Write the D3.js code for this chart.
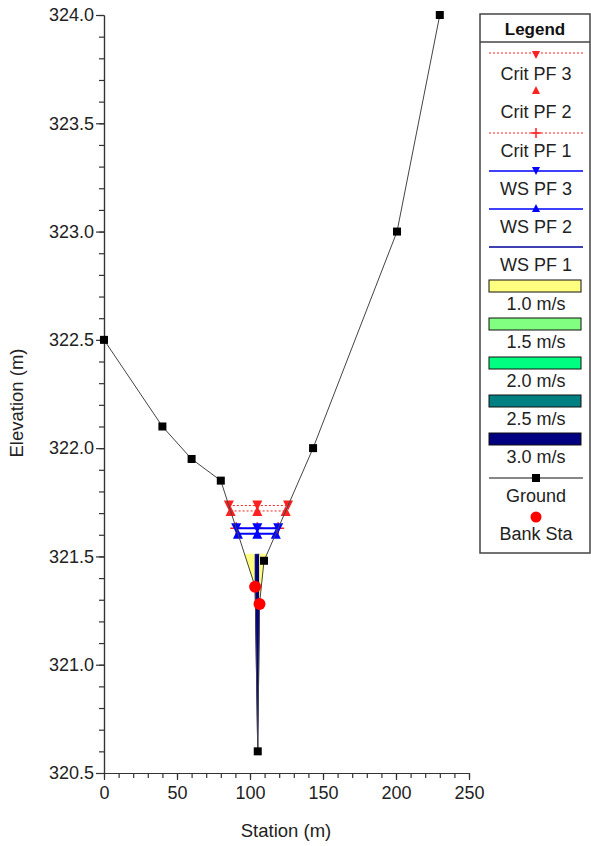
<!DOCTYPE html>
<html>
<head>
<meta charset="utf-8">
<script src="https://cdn.jsdelivr.net/npm/d3@7/dist/d3.min.js"></script>
<style>
  html, body { margin: 0; padding: 0; background: #fff; }
  svg { display: block; font-family: "Liberation Sans", Arial, sans-serif; }
</style>
</head>
<body>
<svg id="chart" width="591" height="846"></svg>
<script>
// Cross-section ground geometry (station m, elevation m)
const groundStation = [0, 40, 60, 80, 103.5, 105.3, 106.5, 109.6, 143.2, 200.7, 230];
const groundElev    = [322.5, 322.10, 321.95, 321.85, 321.36, 320.60, 321.28, 321.48, 322.0, 323.0, 324.0];

// Bank stations (left, right)
const bankStation = [103.5, 106.5];
const bankElev    = [321.36, 321.28];

// Water surface and critical depth elevations per profile
const profileNames = ["PF 3", "PF 2", "PF 1"];
const wsElev   = [321.63, 321.605, 321.51];
const critElev = [321.735, 321.71, 321.63];

// Velocity per flow area (left overbank, main channel, right overbank) for the plotted profile
const subsectionNames = ["LOB", "Channel", "ROB"];
const subsectionVel   = [1.0, 3.0, 1.0];

// Velocity colour classes
const velLabels = ["1.0 m/s", "1.5 m/s", "2.0 m/s", "2.5 m/s", "3.0 m/s"];
const velBreaks = [1.25, 1.75, 2.25, 2.75];
const velColors = ["#ffff80", "#80ff80", "#00ff80", "#008080", "#000080"];

// Axis ticks
const xMajorTicks = [0, 50, 100, 150, 200, 250];
const yMajorTicks = [320.5, 321.0, 321.5, 322.0, 322.5, 323.0, 323.5, 324.0];

const svg = d3.select("#chart");
const FONT = "Liberation Sans, Arial, sans-serif";
const textColor = "#222";

const x = d3.scaleLinear().domain([0, 250]).range([104, 469]);
const y = d3.scaleLinear().domain([320.5, 324]).range([773, 15]);

const ground = groundStation.map((s, i) => ({s, e: groundElev[i]}));
const bottomIdx = d3.minIndex(groundElev);

function groundAt(s) {
  for (let i = 0; i < ground.length - 1; i++) {
    const a = ground[i], b = ground[i + 1];
    if (s >= a.s && s <= b.s) return a.e + (b.e - a.e) * (s - a.s) / (b.s - a.s);
  }
  return NaN;
}
// stations where a horizontal water line meets the ground on each side
function crossings(e) {
  let i = bottomIdx;
  while (i > 0 && ground[i].e < e) i--;
  const a = ground[i], b = ground[i + 1];
  const left = a.s + (b.s - a.s) * (e - a.e) / (b.e - a.e);
  let j = bottomIdx;
  while (j < ground.length - 1 && ground[j].e < e) j++;
  const c = ground[j - 1], d = ground[j];
  const right = c.s + (d.s - c.s) * (e - c.e) / (d.e - c.e);
  return [left, right];
}

// ---- Velocity-coloured flow areas ----
const velColor = d3.scaleThreshold().domain(velBreaks).range(velColors);
const ws = wsElev[2];
const [wl, wr] = crossings(ws);
const bounds = [[wl, bankStation[0]], [bankStation[0], bankStation[1]], [bankStation[1], wr]];
const gArea = svg.append("g");
bounds.forEach(([s0, s1], k) => {
  const pts = [[s0, ws], [s1, ws], [s1, Math.min(groundAt(s1), ws)]];
  ground.filter(p => p.s > s0 && p.s < s1).reverse().forEach(p => pts.push([p.s, Math.min(p.e, ws)]));
  pts.push([s0, Math.min(groundAt(s0), ws)]);
  gArea.append("path")
    .attr("d", "M" + pts.map(p => [x(p[0]), y(p[1])].join(",")).join("L") + "Z")
    .attr("fill", velColor(subsectionVel[k]))
    .attr("stroke", velColor(subsectionVel[k]))
    .attr("stroke-width", 0.8);
});

// ---- Axes ----
const yAxisMinor = d3.axisLeft(y).tickValues(d3.range(3206, 3241).map(v => v / 10)).tickSize(5).tickFormat("").tickSizeOuter(0);
const yAxisMajor = d3.axisLeft(y).tickValues(yMajorTicks).tickSize(8).tickPadding(2).tickFormat(d3.format(".1f")).tickSizeOuter(0);
const xAxisMinor = d3.axisBottom(x).tickValues(d3.range(0, 251, 10)).tickSize(5).tickFormat("").tickSizeOuter(0);
const xAxisMajor = d3.axisBottom(x).tickValues(xMajorTicks).tickSize(7).tickPadding(6).tickFormat(d3.format("d")).tickSizeOuter(0);

function styleAxis(g) {
  g.selectAll("path.domain").attr("stroke", "#333").attr("stroke-width", 1.2);
  g.selectAll("line").attr("stroke", "#333").attr("stroke-width", 1.2);
  g.selectAll("text").attr("font-family", FONT).attr("font-size", 18).attr("fill", textColor);
}
svg.append("g").attr("transform", `translate(${x(0)},0)`).call(yAxisMinor).call(styleAxis);
svg.append("g").attr("transform", `translate(${x(0)},0)`).call(yAxisMajor).call(styleAxis);
svg.append("g").attr("transform", `translate(0,${y(320.5)})`).call(xAxisMinor).call(styleAxis);
svg.append("g").attr("transform", `translate(0,${y(320.5)})`).call(xAxisMajor).call(styleAxis);

svg.append("text").attr("x", 286).attr("y", 837).attr("text-anchor", "middle")
  .attr("font-family", FONT).attr("font-size", 18.5).attr("fill", textColor).text("Station (m)");
svg.append("text").attr("transform", "translate(23,403) rotate(-90)").attr("text-anchor", "middle")
  .attr("font-family", FONT).attr("font-size", 18.5).attr("fill", textColor).text("Elevation (m)");

// ---- Marker shapes ----
function triDown(g, cx, cy, sz, color) {
  g.append("path").attr("d", `M${cx - sz},${cy - sz}L${cx + sz},${cy - sz}L${cx},${cy + sz}Z`).attr("fill", color);
}
function triUp(g, cx, cy, sz, color) {
  g.append("path").attr("d", `M${cx - sz},${cy + sz}L${cx + sz},${cy + sz}L${cx},${cy - sz}Z`).attr("fill", color);
}
function plus(g, cx, cy, sz, color) {
  g.append("path").attr("d", `M${cx - sz},${cy}L${cx + sz},${cy}M${cx},${cy - sz}L${cx},${cy + sz}`)
    .attr("stroke", color).attr("stroke-width", 1.5);
}
const profileMarker = [triDown, triUp, plus];

// ---- Critical depth and water surface lines ----
const chanMid = (bankStation[0] + bankStation[1]) / 2;
const gLines = svg.append("g");
function profileLine(e, color, dash, width, markerFn, msize) {
  const [l, r] = crossings(e);
  gLines.append("line").attr("x1", x(l)).attr("x2", x(r)).attr("y1", y(e)).attr("y2", y(e))
    .attr("stroke", color).attr("stroke-width", width).attr("stroke-dasharray", dash);
  if (markerFn) [l, chanMid, r].forEach(s => markerFn(gLines, x(s), y(e), msize, color));
}
// critical depth (dotted red)
[2, 1, 0].forEach(i => profileLine(critElev[i], "#ff2020", "2,2", 1, profileMarker[i], i === 2 ? 6 : 5));
// water surfaces (solid blue)
profileLine(wsElev[1], "#0000ff", null, 2, triUp, 5);
profileLine(wsElev[0], "#0000ff", null, 2, triDown, 5);

// ---- Ground line and points ----
svg.append("path").datum(ground)
  .attr("d", d3.line().x(d => x(d.s)).y(d => y(d.e)))
  .attr("fill", "none").attr("stroke", "#444").attr("stroke-width", 1);
svg.append("g").selectAll("rect").data(ground.filter((d, i) => i !== 4 && i !== 6)).join("rect")
  .attr("x", d => x(d.s) - 4).attr("y", d => y(d.e) - 4).attr("width", 8).attr("height", 8).attr("fill", "#000");

// ---- Bank stations ----
svg.append("g").selectAll("circle").data(bankStation).join("circle")
  .attr("cx", d => x(d)).attr("cy", (d, i) => y(bankElev[i])).attr("r", 6).attr("fill", "#ff0000");

// ---- Legend ----
const lg = svg.append("g");
lg.append("rect").attr("x", 480).attr("y", 14).attr("width", 110).attr("height", 539)
  .attr("fill", "#fff").attr("stroke", "#444").attr("stroke-width", 1.5);
lg.append("line").attr("x1", 480).attr("x2", 590).attr("y1", 42).attr("y2", 42).attr("stroke", "#444").attr("stroke-width", 1.5);
lg.append("text").attr("x", 535).attr("y", 35).attr("text-anchor", "middle").attr("font-weight", "bold")
  .attr("font-family", FONT).attr("font-size", 17).attr("fill", "#111").text("Legend");

const lx0 = 489, lx1 = 583, lcx = 536;
function legendText(t, by) {
  lg.append("text").attr("x", lcx).attr("y", by).attr("text-anchor", "middle")
    .attr("font-family", FONT).attr("font-size", 18).attr("fill", textColor).text(t);
}
function legendLine(ly, color, dash, width) {
  lg.append("line").attr("x1", lx0).attr("x2", lx1).attr("y1", ly).attr("y2", ly)
    .attr("stroke", color).attr("stroke-width", width).attr("stroke-dasharray", dash);
}
// Crit entries
legendLine(53, "#ff2020", "2,2", 1); triDown(lg, lcx, 55, 4, "#ff2020"); legendText("Crit " + profileNames[0], 80);
triUp(lg, lcx, 90, 4, "#ff2020"); legendText("Crit " + profileNames[1], 118);
legendLine(133, "#ff2020", "2,2", 1); plus(lg, lcx, 133, 5, "#ff2020"); legendText("Crit " + profileNames[2], 157);
// WS entries
legendLine(171, "#0000ff", null, 1.5); triDown(lg, lcx, 171, 4, "#0000ff"); legendText("WS " + profileNames[0], 195);
legendLine(209, "#0000ff", null, 1.5); triUp(lg, lcx, 208, 4, "#0000ff"); legendText("WS " + profileNames[1], 233);
legendLine(247, "#000099", null, 1.5); legendText("WS " + profileNames[2], 271);
// velocity classes
const swatchTop = [280, 318, 357, 395, 433];
const swatchBase = [310, 348, 387, 425, 463];
velLabels.forEach((t, i) => {
  lg.append("rect").attr("x", lx0).attr("y", swatchTop[i]).attr("width", 92).attr("height", 12)
    .attr("fill", velColors[i]).attr("stroke", "#111").attr("stroke-width", 1);
  legendText(t, swatchBase[i]);
});
// ground & bank
legendLine(478, "#111", null, 1.2);
lg.append("rect").attr("x", lcx - 4).attr("y", 474).attr("width", 8).attr("height", 8).attr("fill", "#000");
legendText("Ground", 502);
lg.append("circle").attr("cx", lcx).attr("cy", 517).attr("r", 5.5).attr("fill", "#ff0000");
legendText("Bank Sta", 540);
</script>
</body>
</html>
